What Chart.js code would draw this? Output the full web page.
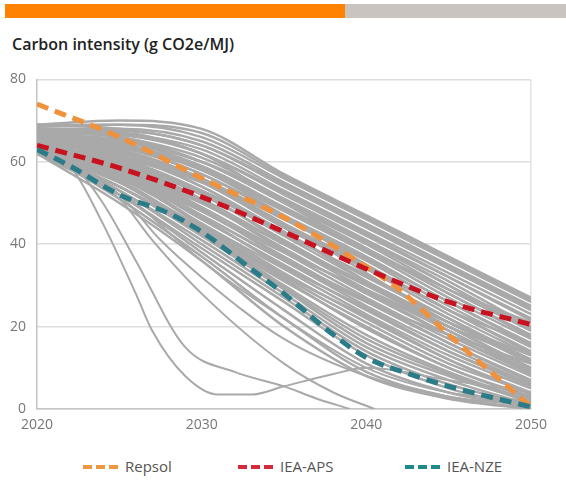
<!DOCTYPE html>
<html>
<head>
<meta charset="utf-8">
<script src="https://cdn.jsdelivr.net/npm/chart.js@4/dist/chart.umd.min.js"></script>
<style>
  body { margin: 0; background: #fff; width: 566px; height: 486px; position: relative; overflow: hidden; font-family: "Open Sans", sans-serif; }
  .bar { position: absolute; top: 4px; height: 14px; }
  #title { position: absolute; left: 12px; top: 33px; font-size: 16px; font-weight: 600; color: #222; white-space: nowrap; }
  #wrap { position: absolute; left: 0; top: 60px; width: 566px; height: 390px; }
  .leg { position: absolute; top: 456px; font-size: 15px; color: #555; white-space: nowrap; }
  .dash { position: absolute; top: 465px; width: 9px; height: 4px; }
</style>
</head>
<body>
<div class="bar" style="left:5px;width:340px;background:#ff8200"></div>
<div class="bar" style="left:345px;width:221px;background:#c9c4bf"></div>
<div id="title">Carbon intensity (g CO2e/MJ)</div>
<div id="wrap"><canvas id="chart" width="566" height="390"></canvas></div>
<div id="legend"></div>
<script>
// x ticks and y ticks
const xTicks = [2020, 2030, 2040, 2050];
const yTicks = [0, 20, 40, 60, 80];

// highlighted pathways
const repsolYears = [2020, 2025, 2030, 2035, 2040, 2042, 2045, 2050];
const repsolValues = [74, 66, 56, 46.5, 34.5, 29, 18, 0.5];

const apsYears = [2020, 2025, 2030, 2035, 2040, 2045, 2050];
const apsValues = [64, 58.5, 51.5, 43, 34, 26, 20.5];

const nzeYears = [2020, 2022, 2025, 2028, 2030, 2033, 2035, 2038, 2040, 2043, 2045, 2050];
const nzeValues = [63, 59, 52, 47.5, 43, 34, 28, 18, 12.5, 8, 5.5, 0.5];

// grey scenario ensemble
const scenarioYears = [2020, 2025, 2030, 2035, 2040, 2045, 2050];
const scenarios = [
    [69, 70, 68, 57, 47, 37, 27],
    [68.5, 69, 67, 56.5, 46.5, 36.5, 26.5],
    [69, 69, 66, 56, 46, 36, 26],
    [68, 68, 65, 55, 45, 35, 25],
    [67.5, 67.5, 64, 54.5, 44.5, 34.5, 24.5],
    [69, 68, 64, 54, 44, 34, 24],
    [68, 67, 63, 53, 43, 33, 23],
    [67, 66.5, 62, 52.5, 42.5, 32, 21.5],
    [67, 67, 62, 52, 42, 32, 22],
    [68, 66, 61, 51, 41, 31, 20],
    [66.5, 65.5, 60, 50.5, 40.5, 30, 19.5],
    [67, 66, 60, 50, 40, 29, 19],
    [66, 65, 59, 49, 39, 28, 18],
    [66, 64.5, 58.5, 48.5, 38.5, 28, 17.5],
    [67, 64, 58, 48, 38, 27, 17],
    [66, 64, 57, 47, 37, 26, 16],
    [65.5, 63.5, 57, 46.5, 36.5, 26, 15.5],
    [65, 63, 56, 46, 36, 25, 15],
    [66, 63, 56, 45, 35, 24, 14],
    [65, 62.5, 55.5, 44.5, 34.5, 24, 13.5],
    [65, 62, 55, 44, 34, 23, 13],
    [64, 62, 54, 43, 32, 22, 12],
    [64.5, 61.5, 54, 42.5, 32.5, 22, 11.5],
    [65, 61, 53, 42, 31, 21, 11],
    [64, 60, 52, 41, 30, 20, 10],
    [64, 60.5, 52.5, 40.5, 30.5, 20, 9.5],
    [64, 60, 51, 40, 29, 19, 9],
    [63, 59, 50, 39, 28, 18, 9],
    [63.5, 59.5, 50.5, 38.5, 28.5, 18, 8.5],
    [64, 59, 49, 38, 27, 17, 8],
    [63, 58, 48, 37, 26, 16, 7],
    [63, 58.5, 48.5, 36.5, 26.5, 16, 6.5],
    [63, 58, 47, 36, 25, 15, 6],
    [62, 57, 46, 35, 24, 14, 6],
    [62.5, 57.5, 46.5, 34.5, 24.5, 14, 5.5],
    [63, 57, 45, 34, 23, 13, 5],
    [62, 56, 45, 33, 22, 12, 4],
    [62.5, 56.5, 44.5, 32.5, 22.5, 12, 3.5],
    [62, 55, 44, 32, 21, 11, 4],
    [63, 55, 43, 31, 20, 10, 3],
    [62, 55.5, 43.5, 31.5, 19.5, 10, 2.5],
    [62, 54, 43, 30, 18, 9, 2],
    [62, 54, 42, 29, 16, 8, 2],
    [62.5, 54, 42.5, 29.5, 17, 8.5, 1.5],
    [63, 53, 41, 28, 15, 7, 1],
    [62, 53, 40, 27, 14, 6, 1],
    [62, 52, 39, 26, 13, 5, 0.5],
    [62, 52, 38, 24, 11, 4, 0.5],
    [63, 51, 37, 22, 9, 3, 0],
    [62, 50, 36, 20, 8, 2.5, 0],
    [68, 67, 62, 50, 39, 29, 21],
    [66, 65, 60, 51, 41, 30, 19],
    [65, 64, 58, 47, 35, 24, 16],
    [64, 61, 55, 45, 33, 21, 12],
    [63, 60, 53, 43, 31, 19, 10],
    [64, 58, 50, 40, 30, 21, 13],
    [62, 57, 48, 38, 29, 20, 12],
    [63, 56, 47, 36, 26, 18, 11]
];

// steep outliers
const dipAYears = [2020, 2022, 2024, 2026, 2027, 2029, 2031, 2033, 2035, 2038, 2040, 2045, 2050];
const dipAValues = [63, 59, 45, 28, 19, 8, 3.5, 3.5, 5.5, 8.5, 10, 7, 4];
const dipBYears = [2020, 2022, 2024, 2026, 2029, 2032, 2035, 2037, 2039];
const dipBValues = [63, 60, 50, 36, 15, 9, 5.5, 2.5, 0];
const steepCYears = [2020, 2025, 2027.5, 2030, 2035, 2040, 2045, 2050];
const steepCValues = [63, 52, 41, 32, 17, 8, 3, 1];
const steepDYears = [2020, 2025, 2027, 2030, 2035, 2038, 2040.5];
const steepDValues = [63, 51, 41, 28, 11, 4, 0];
const steepEYears = [2020, 2025, 2030, 2035, 2040, 2045, 2050];
const steepEValues = [63, 53, 36, 22, 10, 4, 2];

function toPoints(years, values) {
    return years.map((y, i) => ({ x: y, y: values[i] }));
}

const greyColor = '#a9a9a9';

function greyLine(years, values, width) {
    return {
        data: toPoints(years, values),
        borderColor: greyColor,
        borderWidth: width || 2.5,
        pointRadius: 0,
        cubicInterpolationMode: 'monotone',
        order: 2
    };
}

function dashLine(label, years, values, color) {
    return {
        label: label,
        data: toPoints(years, values),
        borderColor: color,
        borderWidth: 5,
        borderDash: [12, 7],
        pointRadius: 0,
        cubicInterpolationMode: 'monotone',
        order: 0
    };
}

const datasets = [
    dashLine('IEA-NZE', nzeYears, nzeValues, '#2b7c89'),
    dashLine('IEA-APS', apsYears, apsValues, '#c8121f'),
    dashLine('Repsol', repsolYears, repsolValues, '#f0913c')
];
scenarios.forEach(s => datasets.push(greyLine(scenarioYears, s)));
datasets.push(greyLine(dipAYears, dipAValues, 2));
datasets.push(greyLine(dipBYears, dipBValues, 2));
datasets.push(greyLine(steepCYears, steepCValues, 2));
datasets.push(greyLine(steepDYears, steepDValues, 2));
datasets.push(greyLine(steepEYears, steepEValues, 2));

new Chart(document.getElementById('chart').getContext('2d'), {
    type: 'line',
    data: { datasets: datasets },
    options: {
        responsive: false,
        animation: false,
        devicePixelRatio: 1,
        layout: { padding: { top: 17, right: 35, left: 0, bottom: 0 } },
        plugins: { legend: { display: false }, tooltip: { enabled: false } },
        scales: {
            x: {
                type: 'linear',
                min: xTicks[0],
                max: xTicks[xTicks.length - 1],
                afterBuildTicks: scale => { scale.ticks = xTicks.map(v => ({ value: v })); },
                afterFit: scale => { scale.height = 41; },
                ticks: {
                    callback: v => String(v),
                    color: '#777',
                    padding: 8,
                    font: { family: 'Open Sans', size: 14 }
                },
                grid: {
                    drawTicks: false,
                    color: ctx => ctx.tick && ctx.tick.value === 2050 ? '#e2e2e2' : 'rgba(0,0,0,0)',
                    lineWidth: 1.5
                },
                border: { color: '#c4c4c4', width: 1.5 }
            },
            y: {
                min: yTicks[0],
                max: yTicks[yTicks.length - 1],
                afterBuildTicks: scale => { scale.ticks = yTicks.map(v => ({ value: v })); },
                afterFit: scale => { scale.width = 37; },
                ticks: {
                    color: '#777',
                    padding: 11,
                    font: { family: 'Open Sans', size: 14 }
                },
                grid: { drawTicks: false, color: '#dedede', lineWidth: 1.5 },
                border: { color: '#c4c4c4', width: 1.5 }
            }
        }
    }
});

// legend
const legendItems = [
    { label: 'Repsol', color: '#f0963c', x: 83 },
    { label: 'IEA-APS', color: '#d42a3c', x: 238 },
    { label: 'IEA-NZE', color: '#1f8a8a', x: 405 }
];
const legend = document.getElementById('legend');
legendItems.forEach(item => {
    for (let i = 0; i < 3; i++) {
        const d = document.createElement('div');
        d.className = 'dash';
        d.style.left = (item.x + i * 13) + 'px';
        d.style.background = item.color;
        legend.appendChild(d);
    }
    const t = document.createElement('div');
    t.className = 'leg';
    t.style.left = (item.x + 42) + 'px';
    t.textContent = item.label;
    legend.appendChild(t);
});
</script>
</body>
</html>
